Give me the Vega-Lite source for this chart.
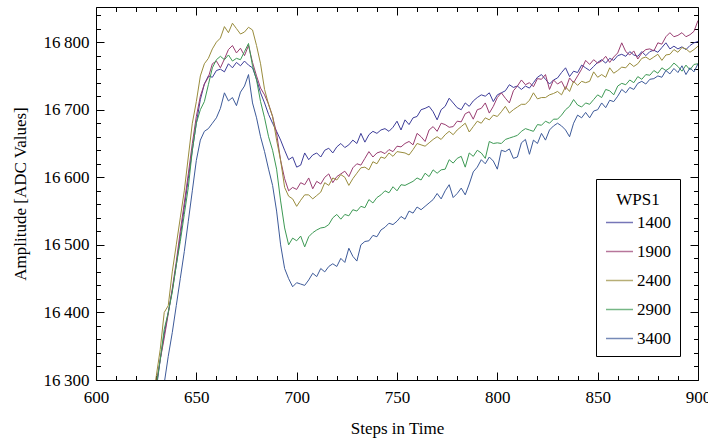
{
"$schema": "https://vega.github.io/schema/vega-lite/v6.json",
"width": 602, "height": 373,
"autosize": "none",
"padding": {"left": 96, "top": 7, "right": 10, "bottom": 60},
"background": "white",
"datasets": {
"d": [
{"s":"1400","t":626,"v":16200},{"s":"1400","t":628,"v":16240},{"s":"1400","t":630,"v":16285},{"s":"1400","t":632,"v":16330},{"s":"1400","t":634,"v":16368},{"s":"1400","t":636,"v":16400},{"s":"1400","t":638,"v":16432},{"s":"1400","t":640,"v":16470},{"s":"1400","t":642,"v":16512},{"s":"1400","t":644,"v":16555},{"s":"1400","t":646,"v":16598},{"s":"1400","t":648,"v":16640},{"s":"1400","t":650,"v":16680},{"s":"1400","t":652,"v":16715},{"s":"1400","t":654,"v":16738},{"s":"1400","t":656,"v":16750},{"s":"1400","t":658,"v":16748},{"s":"1400","t":660,"v":16758},{"s":"1400","t":662,"v":16760},{"s":"1400","t":664,"v":16756},{"s":"1400","t":666,"v":16768},{"s":"1400","t":668,"v":16762},{"s":"1400","t":670,"v":16770},{"s":"1400","t":672,"v":16765},{"s":"1400","t":674,"v":16772},{"s":"1400","t":676,"v":16766},{"s":"1400","t":678,"v":16762},{"s":"1400","t":680,"v":16745},{"s":"1400","t":682,"v":16725},{"s":"1400","t":684,"v":16710},{"s":"1400","t":686,"v":16693},{"s":"1400","t":688,"v":16680},{"s":"1400","t":690,"v":16668},{"s":"1400","t":692,"v":16655},{"s":"1400","t":694,"v":16640},{"s":"1400","t":696,"v":16626},{"s":"1400","t":698,"v":16630},{"s":"1400","t":700,"v":16615},{"s":"1400","t":702,"v":16618},{"s":"1400","t":704,"v":16636},{"s":"1400","t":706,"v":16626},{"s":"1400","t":708,"v":16633},{"s":"1400","t":710,"v":16636},{"s":"1400","t":712,"v":16630},{"s":"1400","t":714,"v":16640},{"s":"1400","t":716,"v":16643},{"s":"1400","t":718,"v":16636},{"s":"1400","t":720,"v":16645},{"s":"1400","t":722,"v":16650},{"s":"1400","t":724,"v":16644},{"s":"1400","t":726,"v":16648},{"s":"1400","t":728,"v":16655},{"s":"1400","t":730,"v":16650},{"s":"1400","t":732,"v":16665},{"s":"1400","t":734,"v":16652},{"s":"1400","t":736,"v":16663},{"s":"1400","t":738,"v":16668},{"s":"1400","t":740,"v":16665},{"s":"1400","t":742,"v":16670},{"s":"1400","t":744,"v":16672},{"s":"1400","t":746,"v":16668},{"s":"1400","t":748,"v":16674},{"s":"1400","t":750,"v":16683},{"s":"1400","t":752,"v":16670},{"s":"1400","t":754,"v":16685},{"s":"1400","t":756,"v":16678},{"s":"1400","t":758,"v":16688},{"s":"1400","t":760,"v":16690},{"s":"1400","t":762,"v":16700},{"s":"1400","t":764,"v":16702},{"s":"1400","t":766,"v":16705},{"s":"1400","t":768,"v":16697},{"s":"1400","t":770,"v":16685},{"s":"1400","t":772,"v":16700},{"s":"1400","t":774,"v":16705},{"s":"1400","t":776,"v":16717},{"s":"1400","t":778,"v":16710},{"s":"1400","t":780,"v":16703},{"s":"1400","t":782,"v":16700},{"s":"1400","t":784,"v":16710},{"s":"1400","t":786,"v":16705},{"s":"1400","t":788,"v":16713},{"s":"1400","t":790,"v":16718},{"s":"1400","t":792,"v":16722},{"s":"1400","t":794,"v":16720},{"s":"1400","t":796,"v":16725},{"s":"1400","t":798,"v":16712},{"s":"1400","t":800,"v":16722},{"s":"1400","t":802,"v":16725},{"s":"1400","t":804,"v":16728},{"s":"1400","t":806,"v":16737},{"s":"1400","t":808,"v":16733},{"s":"1400","t":810,"v":16735},{"s":"1400","t":812,"v":16730},{"s":"1400","t":814,"v":16735},{"s":"1400","t":816,"v":16732},{"s":"1400","t":818,"v":16740},{"s":"1400","t":820,"v":16748},{"s":"1400","t":822,"v":16752},{"s":"1400","t":824,"v":16745},{"s":"1400","t":826,"v":16738},{"s":"1400","t":828,"v":16744},{"s":"1400","t":830,"v":16747},{"s":"1400","t":832,"v":16755},{"s":"1400","t":834,"v":16762},{"s":"1400","t":836,"v":16749},{"s":"1400","t":838,"v":16757},{"s":"1400","t":840,"v":16755},{"s":"1400","t":842,"v":16766},{"s":"1400","t":844,"v":16762},{"s":"1400","t":846,"v":16758},{"s":"1400","t":848,"v":16764},{"s":"1400","t":850,"v":16770},{"s":"1400","t":852,"v":16774},{"s":"1400","t":854,"v":16769},{"s":"1400","t":856,"v":16776},{"s":"1400","t":858,"v":16773},{"s":"1400","t":860,"v":16780},{"s":"1400","t":862,"v":16782},{"s":"1400","t":864,"v":16779},{"s":"1400","t":866,"v":16786},{"s":"1400","t":868,"v":16781},{"s":"1400","t":870,"v":16779},{"s":"1400","t":872,"v":16786},{"s":"1400","t":874,"v":16780},{"s":"1400","t":876,"v":16786},{"s":"1400","t":878,"v":16788},{"s":"1400","t":880,"v":16785},{"s":"1400","t":882,"v":16792},{"s":"1400","t":884,"v":16799},{"s":"1400","t":886,"v":16790},{"s":"1400","t":888,"v":16794},{"s":"1400","t":890,"v":16790},{"s":"1400","t":892,"v":16793},{"s":"1400","t":894,"v":16789},{"s":"1400","t":896,"v":16795},{"s":"1400","t":898,"v":16799},{"s":"1400","t":900,"v":16801},
{"s":"1900","t":626,"v":16210},{"s":"1900","t":628,"v":16255},{"s":"1900","t":630,"v":16295},{"s":"1900","t":632,"v":16330},{"s":"1900","t":634,"v":16362},{"s":"1900","t":636,"v":16398},{"s":"1900","t":638,"v":16435},{"s":"1900","t":640,"v":16475},{"s":"1900","t":642,"v":16520},{"s":"1900","t":644,"v":16562},{"s":"1900","t":646,"v":16605},{"s":"1900","t":648,"v":16650},{"s":"1900","t":650,"v":16690},{"s":"1900","t":652,"v":16720},{"s":"1900","t":654,"v":16738},{"s":"1900","t":656,"v":16748},{"s":"1900","t":658,"v":16768},{"s":"1900","t":660,"v":16772},{"s":"1900","t":662,"v":16762},{"s":"1900","t":664,"v":16775},{"s":"1900","t":666,"v":16789},{"s":"1900","t":668,"v":16795},{"s":"1900","t":670,"v":16784},{"s":"1900","t":672,"v":16791},{"s":"1900","t":674,"v":16780},{"s":"1900","t":676,"v":16795},{"s":"1900","t":678,"v":16770},{"s":"1900","t":680,"v":16750},{"s":"1900","t":682,"v":16732},{"s":"1900","t":684,"v":16722},{"s":"1900","t":686,"v":16708},{"s":"1900","t":688,"v":16690},{"s":"1900","t":690,"v":16665},{"s":"1900","t":692,"v":16625},{"s":"1900","t":694,"v":16598},{"s":"1900","t":696,"v":16580},{"s":"1900","t":698,"v":16585},{"s":"1900","t":700,"v":16582},{"s":"1900","t":702,"v":16592},{"s":"1900","t":704,"v":16589},{"s":"1900","t":706,"v":16599},{"s":"1900","t":708,"v":16583},{"s":"1900","t":710,"v":16594},{"s":"1900","t":712,"v":16590},{"s":"1900","t":714,"v":16600},{"s":"1900","t":716,"v":16605},{"s":"1900","t":718,"v":16592},{"s":"1900","t":720,"v":16601},{"s":"1900","t":722,"v":16605},{"s":"1900","t":724,"v":16609},{"s":"1900","t":726,"v":16601},{"s":"1900","t":728,"v":16614},{"s":"1900","t":730,"v":16620},{"s":"1900","t":732,"v":16618},{"s":"1900","t":734,"v":16628},{"s":"1900","t":736,"v":16638},{"s":"1900","t":738,"v":16630},{"s":"1900","t":740,"v":16636},{"s":"1900","t":742,"v":16638},{"s":"1900","t":744,"v":16635},{"s":"1900","t":746,"v":16641},{"s":"1900","t":748,"v":16638},{"s":"1900","t":750,"v":16646},{"s":"1900","t":752,"v":16645},{"s":"1900","t":754,"v":16650},{"s":"1900","t":756,"v":16653},{"s":"1900","t":758,"v":16648},{"s":"1900","t":760,"v":16665},{"s":"1900","t":762,"v":16660},{"s":"1900","t":764,"v":16653},{"s":"1900","t":766,"v":16670},{"s":"1900","t":768,"v":16675},{"s":"1900","t":770,"v":16668},{"s":"1900","t":772,"v":16680},{"s":"1900","t":774,"v":16678},{"s":"1900","t":776,"v":16674},{"s":"1900","t":778,"v":16675},{"s":"1900","t":780,"v":16683},{"s":"1900","t":782,"v":16682},{"s":"1900","t":784,"v":16694},{"s":"1900","t":786,"v":16697},{"s":"1900","t":788,"v":16686},{"s":"1900","t":790,"v":16700},{"s":"1900","t":792,"v":16702},{"s":"1900","t":794,"v":16710},{"s":"1900","t":796,"v":16695},{"s":"1900","t":798,"v":16705},{"s":"1900","t":800,"v":16718},{"s":"1900","t":802,"v":16725},{"s":"1900","t":804,"v":16717},{"s":"1900","t":806,"v":16710},{"s":"1900","t":808,"v":16728},{"s":"1900","t":810,"v":16735},{"s":"1900","t":812,"v":16744},{"s":"1900","t":814,"v":16737},{"s":"1900","t":816,"v":16740},{"s":"1900","t":818,"v":16734},{"s":"1900","t":820,"v":16746},{"s":"1900","t":822,"v":16745},{"s":"1900","t":824,"v":16752},{"s":"1900","t":826,"v":16730},{"s":"1900","t":828,"v":16744},{"s":"1900","t":830,"v":16738},{"s":"1900","t":832,"v":16742},{"s":"1900","t":834,"v":16730},{"s":"1900","t":836,"v":16747},{"s":"1900","t":838,"v":16740},{"s":"1900","t":840,"v":16750},{"s":"1900","t":842,"v":16760},{"s":"1900","t":844,"v":16773},{"s":"1900","t":846,"v":16767},{"s":"1900","t":848,"v":16774},{"s":"1900","t":850,"v":16769},{"s":"1900","t":852,"v":16772},{"s":"1900","t":854,"v":16779},{"s":"1900","t":856,"v":16770},{"s":"1900","t":858,"v":16778},{"s":"1900","t":860,"v":16784},{"s":"1900","t":862,"v":16799},{"s":"1900","t":864,"v":16786},{"s":"1900","t":866,"v":16781},{"s":"1900","t":868,"v":16787},{"s":"1900","t":870,"v":16775},{"s":"1900","t":872,"v":16784},{"s":"1900","t":874,"v":16789},{"s":"1900","t":876,"v":16790},{"s":"1900","t":878,"v":16787},{"s":"1900","t":880,"v":16799},{"s":"1900","t":882,"v":16797},{"s":"1900","t":884,"v":16808},{"s":"1900","t":886,"v":16814},{"s":"1900","t":888,"v":16808},{"s":"1900","t":890,"v":16810},{"s":"1900","t":892,"v":16814},{"s":"1900","t":894,"v":16808},{"s":"1900","t":896,"v":16811},{"s":"1900","t":898,"v":16816},{"s":"1900","t":900,"v":16832},
{"s":"2400","t":626,"v":16225},{"s":"2400","t":628,"v":16265},{"s":"2400","t":630,"v":16305},{"s":"2400","t":632,"v":16345},{"s":"2400","t":634,"v":16400},{"s":"2400","t":636,"v":16410},{"s":"2400","t":638,"v":16460},{"s":"2400","t":640,"v":16500},{"s":"2400","t":642,"v":16540},{"s":"2400","t":644,"v":16580},{"s":"2400","t":646,"v":16630},{"s":"2400","t":648,"v":16680},{"s":"2400","t":650,"v":16712},{"s":"2400","t":652,"v":16750},{"s":"2400","t":654,"v":16768},{"s":"2400","t":656,"v":16776},{"s":"2400","t":658,"v":16790},{"s":"2400","t":660,"v":16800},{"s":"2400","t":662,"v":16806},{"s":"2400","t":664,"v":16823},{"s":"2400","t":666,"v":16814},{"s":"2400","t":668,"v":16828},{"s":"2400","t":670,"v":16820},{"s":"2400","t":672,"v":16812},{"s":"2400","t":674,"v":16815},{"s":"2400","t":676,"v":16822},{"s":"2400","t":678,"v":16818},{"s":"2400","t":680,"v":16795},{"s":"2400","t":682,"v":16768},{"s":"2400","t":684,"v":16730},{"s":"2400","t":686,"v":16708},{"s":"2400","t":688,"v":16690},{"s":"2400","t":690,"v":16655},{"s":"2400","t":692,"v":16625},{"s":"2400","t":694,"v":16585},{"s":"2400","t":696,"v":16572},{"s":"2400","t":698,"v":16568},{"s":"2400","t":700,"v":16557},{"s":"2400","t":702,"v":16566},{"s":"2400","t":704,"v":16574},{"s":"2400","t":706,"v":16574},{"s":"2400","t":708,"v":16568},{"s":"2400","t":710,"v":16573},{"s":"2400","t":712,"v":16578},{"s":"2400","t":714,"v":16592},{"s":"2400","t":716,"v":16588},{"s":"2400","t":718,"v":16599},{"s":"2400","t":720,"v":16596},{"s":"2400","t":722,"v":16604},{"s":"2400","t":724,"v":16600},{"s":"2400","t":726,"v":16588},{"s":"2400","t":728,"v":16598},{"s":"2400","t":730,"v":16606},{"s":"2400","t":732,"v":16614},{"s":"2400","t":734,"v":16615},{"s":"2400","t":736,"v":16611},{"s":"2400","t":738,"v":16623},{"s":"2400","t":740,"v":16620},{"s":"2400","t":742,"v":16630},{"s":"2400","t":744,"v":16628},{"s":"2400","t":746,"v":16636},{"s":"2400","t":748,"v":16631},{"s":"2400","t":750,"v":16638},{"s":"2400","t":752,"v":16637},{"s":"2400","t":754,"v":16636},{"s":"2400","t":756,"v":16633},{"s":"2400","t":758,"v":16641},{"s":"2400","t":760,"v":16650},{"s":"2400","t":762,"v":16648},{"s":"2400","t":764,"v":16646},{"s":"2400","t":766,"v":16651},{"s":"2400","t":768,"v":16656},{"s":"2400","t":770,"v":16660},{"s":"2400","t":772,"v":16656},{"s":"2400","t":774,"v":16663},{"s":"2400","t":776,"v":16668},{"s":"2400","t":778,"v":16663},{"s":"2400","t":780,"v":16670},{"s":"2400","t":782,"v":16675},{"s":"2400","t":784,"v":16680},{"s":"2400","t":786,"v":16667},{"s":"2400","t":788,"v":16675},{"s":"2400","t":790,"v":16683},{"s":"2400","t":792,"v":16680},{"s":"2400","t":794,"v":16688},{"s":"2400","t":796,"v":16685},{"s":"2400","t":798,"v":16692},{"s":"2400","t":800,"v":16690},{"s":"2400","t":802,"v":16697},{"s":"2400","t":804,"v":16705},{"s":"2400","t":806,"v":16695},{"s":"2400","t":808,"v":16700},{"s":"2400","t":810,"v":16704},{"s":"2400","t":812,"v":16708},{"s":"2400","t":814,"v":16708},{"s":"2400","t":816,"v":16714},{"s":"2400","t":818,"v":16725},{"s":"2400","t":820,"v":16716},{"s":"2400","t":822,"v":16718},{"s":"2400","t":824,"v":16718},{"s":"2400","t":826,"v":16722},{"s":"2400","t":828,"v":16724},{"s":"2400","t":830,"v":16727},{"s":"2400","t":832,"v":16722},{"s":"2400","t":834,"v":16734},{"s":"2400","t":836,"v":16727},{"s":"2400","t":838,"v":16742},{"s":"2400","t":840,"v":16736},{"s":"2400","t":842,"v":16742},{"s":"2400","t":844,"v":16740},{"s":"2400","t":846,"v":16742},{"s":"2400","t":848,"v":16756},{"s":"2400","t":850,"v":16748},{"s":"2400","t":852,"v":16752},{"s":"2400","t":854,"v":16748},{"s":"2400","t":856,"v":16762},{"s":"2400","t":858,"v":16754},{"s":"2400","t":860,"v":16758},{"s":"2400","t":862,"v":16763},{"s":"2400","t":864,"v":16762},{"s":"2400","t":866,"v":16769},{"s":"2400","t":868,"v":16764},{"s":"2400","t":870,"v":16768},{"s":"2400","t":872,"v":16776},{"s":"2400","t":874,"v":16778},{"s":"2400","t":876,"v":16774},{"s":"2400","t":878,"v":16778},{"s":"2400","t":880,"v":16782},{"s":"2400","t":882,"v":16773},{"s":"2400","t":884,"v":16781},{"s":"2400","t":886,"v":16782},{"s":"2400","t":888,"v":16789},{"s":"2400","t":890,"v":16785},{"s":"2400","t":892,"v":16792},{"s":"2400","t":894,"v":16790},{"s":"2400","t":896,"v":16785},{"s":"2400","t":898,"v":16789},{"s":"2400","t":900,"v":16794},
{"s":"2900","t":626,"v":16215},{"s":"2900","t":628,"v":16258},{"s":"2900","t":630,"v":16290},{"s":"2900","t":632,"v":16330},{"s":"2900","t":634,"v":16375},{"s":"2900","t":636,"v":16400},{"s":"2900","t":638,"v":16430},{"s":"2900","t":640,"v":16470},{"s":"2900","t":642,"v":16505},{"s":"2900","t":644,"v":16545},{"s":"2900","t":646,"v":16585},{"s":"2900","t":648,"v":16640},{"s":"2900","t":650,"v":16680},{"s":"2900","t":652,"v":16700},{"s":"2900","t":654,"v":16712},{"s":"2900","t":656,"v":16737},{"s":"2900","t":658,"v":16762},{"s":"2900","t":660,"v":16774},{"s":"2900","t":662,"v":16779},{"s":"2900","t":664,"v":16774},{"s":"2900","t":666,"v":16781},{"s":"2900","t":668,"v":16772},{"s":"2900","t":670,"v":16776},{"s":"2900","t":672,"v":16774},{"s":"2900","t":674,"v":16786},{"s":"2900","t":676,"v":16798},{"s":"2900","t":678,"v":16765},{"s":"2900","t":680,"v":16744},{"s":"2900","t":682,"v":16712},{"s":"2900","t":684,"v":16688},{"s":"2900","t":686,"v":16660},{"s":"2900","t":688,"v":16640},{"s":"2900","t":690,"v":16612},{"s":"2900","t":692,"v":16565},{"s":"2900","t":694,"v":16525},{"s":"2900","t":696,"v":16500},{"s":"2900","t":698,"v":16510},{"s":"2900","t":700,"v":16506},{"s":"2900","t":702,"v":16513},{"s":"2900","t":704,"v":16497},{"s":"2900","t":706,"v":16512},{"s":"2900","t":708,"v":16518},{"s":"2900","t":710,"v":16522},{"s":"2900","t":712,"v":16525},{"s":"2900","t":714,"v":16526},{"s":"2900","t":716,"v":16530},{"s":"2900","t":718,"v":16540},{"s":"2900","t":720,"v":16545},{"s":"2900","t":722,"v":16538},{"s":"2900","t":724,"v":16545},{"s":"2900","t":726,"v":16543},{"s":"2900","t":728,"v":16552},{"s":"2900","t":730,"v":16550},{"s":"2900","t":732,"v":16557},{"s":"2900","t":734,"v":16555},{"s":"2900","t":736,"v":16567},{"s":"2900","t":738,"v":16562},{"s":"2900","t":740,"v":16570},{"s":"2900","t":742,"v":16574},{"s":"2900","t":744,"v":16580},{"s":"2900","t":746,"v":16577},{"s":"2900","t":748,"v":16586},{"s":"2900","t":750,"v":16580},{"s":"2900","t":752,"v":16589},{"s":"2900","t":754,"v":16588},{"s":"2900","t":756,"v":16591},{"s":"2900","t":758,"v":16594},{"s":"2900","t":760,"v":16599},{"s":"2900","t":762,"v":16596},{"s":"2900","t":764,"v":16606},{"s":"2900","t":766,"v":16601},{"s":"2900","t":768,"v":16611},{"s":"2900","t":770,"v":16606},{"s":"2900","t":772,"v":16611},{"s":"2900","t":774,"v":16612},{"s":"2900","t":776,"v":16626},{"s":"2900","t":778,"v":16621},{"s":"2900","t":780,"v":16628},{"s":"2900","t":782,"v":16631},{"s":"2900","t":784,"v":16615},{"s":"2900","t":786,"v":16636},{"s":"2900","t":788,"v":16631},{"s":"2900","t":790,"v":16640},{"s":"2900","t":792,"v":16636},{"s":"2900","t":794,"v":16628},{"s":"2900","t":796,"v":16653},{"s":"2900","t":798,"v":16650},{"s":"2900","t":800,"v":16651},{"s":"2900","t":802,"v":16650},{"s":"2900","t":804,"v":16656},{"s":"2900","t":806,"v":16658},{"s":"2900","t":808,"v":16660},{"s":"2900","t":810,"v":16662},{"s":"2900","t":812,"v":16668},{"s":"2900","t":814,"v":16672},{"s":"2900","t":816,"v":16670},{"s":"2900","t":818,"v":16668},{"s":"2900","t":820,"v":16678},{"s":"2900","t":822,"v":16677},{"s":"2900","t":824,"v":16683},{"s":"2900","t":826,"v":16680},{"s":"2900","t":828,"v":16686},{"s":"2900","t":830,"v":16686},{"s":"2900","t":832,"v":16692},{"s":"2900","t":834,"v":16700},{"s":"2900","t":836,"v":16705},{"s":"2900","t":838,"v":16715},{"s":"2900","t":840,"v":16707},{"s":"2900","t":842,"v":16704},{"s":"2900","t":844,"v":16710},{"s":"2900","t":846,"v":16708},{"s":"2900","t":848,"v":16715},{"s":"2900","t":850,"v":16722},{"s":"2900","t":852,"v":16718},{"s":"2900","t":854,"v":16730},{"s":"2900","t":856,"v":16728},{"s":"2900","t":858,"v":16722},{"s":"2900","t":860,"v":16735},{"s":"2900","t":862,"v":16739},{"s":"2900","t":864,"v":16737},{"s":"2900","t":866,"v":16744},{"s":"2900","t":868,"v":16740},{"s":"2900","t":870,"v":16749},{"s":"2900","t":872,"v":16745},{"s":"2900","t":874,"v":16752},{"s":"2900","t":876,"v":16751},{"s":"2900","t":878,"v":16758},{"s":"2900","t":880,"v":16754},{"s":"2900","t":882,"v":16762},{"s":"2900","t":884,"v":16758},{"s":"2900","t":886,"v":16762},{"s":"2900","t":888,"v":16769},{"s":"2900","t":890,"v":16764},{"s":"2900","t":892,"v":16757},{"s":"2900","t":894,"v":16766},{"s":"2900","t":896,"v":16759},{"s":"2900","t":898,"v":16767},{"s":"2900","t":900,"v":16768},
{"s":"3400","t":626,"v":16160},{"s":"3400","t":628,"v":16190},{"s":"3400","t":630,"v":16225},{"s":"3400","t":632,"v":16260},{"s":"3400","t":634,"v":16295},{"s":"3400","t":636,"v":16335},{"s":"3400","t":638,"v":16370},{"s":"3400","t":640,"v":16410},{"s":"3400","t":642,"v":16450},{"s":"3400","t":644,"v":16490},{"s":"3400","t":646,"v":16535},{"s":"3400","t":648,"v":16580},{"s":"3400","t":650,"v":16625},{"s":"3400","t":652,"v":16655},{"s":"3400","t":654,"v":16668},{"s":"3400","t":656,"v":16672},{"s":"3400","t":658,"v":16680},{"s":"3400","t":660,"v":16688},{"s":"3400","t":662,"v":16702},{"s":"3400","t":664,"v":16725},{"s":"3400","t":666,"v":16713},{"s":"3400","t":668,"v":16718},{"s":"3400","t":670,"v":16706},{"s":"3400","t":672,"v":16726},{"s":"3400","t":674,"v":16735},{"s":"3400","t":676,"v":16752},{"s":"3400","t":678,"v":16710},{"s":"3400","t":680,"v":16688},{"s":"3400","t":682,"v":16660},{"s":"3400","t":684,"v":16638},{"s":"3400","t":686,"v":16612},{"s":"3400","t":688,"v":16588},{"s":"3400","t":690,"v":16550},{"s":"3400","t":692,"v":16500},{"s":"3400","t":694,"v":16465},{"s":"3400","t":696,"v":16450},{"s":"3400","t":698,"v":16438},{"s":"3400","t":700,"v":16444},{"s":"3400","t":702,"v":16442},{"s":"3400","t":704,"v":16440},{"s":"3400","t":706,"v":16448},{"s":"3400","t":708,"v":16458},{"s":"3400","t":710,"v":16453},{"s":"3400","t":712,"v":16465},{"s":"3400","t":714,"v":16460},{"s":"3400","t":716,"v":16468},{"s":"3400","t":718,"v":16472},{"s":"3400","t":720,"v":16468},{"s":"3400","t":722,"v":16480},{"s":"3400","t":724,"v":16474},{"s":"3400","t":726,"v":16495},{"s":"3400","t":728,"v":16483},{"s":"3400","t":730,"v":16476},{"s":"3400","t":732,"v":16500},{"s":"3400","t":734,"v":16505},{"s":"3400","t":736,"v":16506},{"s":"3400","t":738,"v":16514},{"s":"3400","t":740,"v":16512},{"s":"3400","t":742,"v":16522},{"s":"3400","t":744,"v":16526},{"s":"3400","t":746,"v":16532},{"s":"3400","t":748,"v":16530},{"s":"3400","t":750,"v":16535},{"s":"3400","t":752,"v":16542},{"s":"3400","t":754,"v":16538},{"s":"3400","t":756,"v":16550},{"s":"3400","t":758,"v":16547},{"s":"3400","t":760,"v":16556},{"s":"3400","t":762,"v":16552},{"s":"3400","t":764,"v":16557},{"s":"3400","t":766,"v":16562},{"s":"3400","t":768,"v":16567},{"s":"3400","t":770,"v":16576},{"s":"3400","t":772,"v":16568},{"s":"3400","t":774,"v":16580},{"s":"3400","t":776,"v":16589},{"s":"3400","t":778,"v":16570},{"s":"3400","t":780,"v":16576},{"s":"3400","t":782,"v":16584},{"s":"3400","t":784,"v":16574},{"s":"3400","t":786,"v":16590},{"s":"3400","t":788,"v":16608},{"s":"3400","t":790,"v":16615},{"s":"3400","t":792,"v":16626},{"s":"3400","t":794,"v":16620},{"s":"3400","t":796,"v":16630},{"s":"3400","t":798,"v":16624},{"s":"3400","t":800,"v":16612},{"s":"3400","t":802,"v":16640},{"s":"3400","t":804,"v":16638},{"s":"3400","t":806,"v":16642},{"s":"3400","t":808,"v":16628},{"s":"3400","t":810,"v":16630},{"s":"3400","t":812,"v":16651},{"s":"3400","t":814,"v":16656},{"s":"3400","t":816,"v":16634},{"s":"3400","t":818,"v":16655},{"s":"3400","t":820,"v":16650},{"s":"3400","t":822,"v":16665},{"s":"3400","t":824,"v":16655},{"s":"3400","t":826,"v":16670},{"s":"3400","t":828,"v":16676},{"s":"3400","t":830,"v":16680},{"s":"3400","t":832,"v":16676},{"s":"3400","t":834,"v":16670},{"s":"3400","t":836,"v":16660},{"s":"3400","t":838,"v":16680},{"s":"3400","t":840,"v":16692},{"s":"3400","t":842,"v":16688},{"s":"3400","t":844,"v":16696},{"s":"3400","t":846,"v":16688},{"s":"3400","t":848,"v":16698},{"s":"3400","t":850,"v":16700},{"s":"3400","t":852,"v":16710},{"s":"3400","t":854,"v":16703},{"s":"3400","t":856,"v":16714},{"s":"3400","t":858,"v":16712},{"s":"3400","t":860,"v":16720},{"s":"3400","t":862,"v":16730},{"s":"3400","t":864,"v":16725},{"s":"3400","t":866,"v":16733},{"s":"3400","t":868,"v":16730},{"s":"3400","t":870,"v":16739},{"s":"3400","t":872,"v":16742},{"s":"3400","t":874,"v":16738},{"s":"3400","t":876,"v":16745},{"s":"3400","t":878,"v":16746},{"s":"3400","t":880,"v":16750},{"s":"3400","t":882,"v":16748},{"s":"3400","t":884,"v":16758},{"s":"3400","t":886,"v":16753},{"s":"3400","t":888,"v":16761},{"s":"3400","t":890,"v":16755},{"s":"3400","t":892,"v":16765},{"s":"3400","t":894,"v":16752},{"s":"3400","t":896,"v":16762},{"s":"3400","t":898,"v":16756},{"s":"3400","t":900,"v":16768}
],
"anchor": [{"t": 700, "v": 16500}]
},
"layer": [
{
"data": {"name": "d"},
"mark": {"type": "line", "clip": true, "strokeWidth": 1},
"encoding": {
"x": {"field": "t", "type": "quantitative", "scale": {"domain": [600, 900], "nice": false, "zero": false},
"axis": {"orient": "bottom", "values": [600, 650, 700, 750, 800, 850, 900], "tickSize": -8, "labelPadding": 17, "labelFlush": false, "labelOverlap": false, "title": "Steps in Time", "titlePadding": 15}},
"y": {"field": "v", "type": "quantitative", "scale": {"domain": [16300, 16852], "nice": false, "zero": false},
"axis": {"orient": "left", "values": [16300, 16400, 16500, 16600, 16700, 16800], "tickSize": -8, "labelPadding": 15, "labelFlush": false, "labelOverlap": false, "labelExpr": "replace(format(datum.value, ','), ',', '\u2009')", "title": "Amplitude [ADC Values]", "titlePadding": 14}},
"color": {"field": "s", "type": "nominal", "title": "WPS1",
"scale": {"domain": ["1400", "1900", "2400", "2900", "3400"], "range": ["#3D3D99", "#993D71", "#998C3D", "#3D9954", "#3D5A99"]},
"legend": {"orient": "none", "legendX": 500, "legendY": 172, "symbolType": "stroke", "symbolSize": 729, "symbolStrokeWidth": 1.5, "symbolOpacity": 0.7, "labelOffset": 3, "rowPadding": 6, "padding": 9, "strokeColor": "black", "fillColor": "white", "titleAnchor": "middle", "titleBaseline": "line-top", "titleLineHeight": 25, "titlePadding": 3}}
}
},
{
"data": {"name": "anchor"},
"mark": {"type": "point", "opacity": 0},
"encoding": {
"x": {"field": "t", "type": "quantitative", "axis": {"orient": "bottom", "values": [610,620,630,640,660,670,680,690,710,720,730,740,760,770,780,790,810,820,830,840,860,870,880,890], "tickSize": -4.5, "labels": false, "title": null}},
"y": {"field": "v", "type": "quantitative", "axis": {"orient": "left", "values": [16320,16340,16360,16380,16420,16440,16460,16480,16520,16540,16560,16580,16620,16640,16660,16680,16720,16740,16760,16780,16820,16840], "tickSize": -4.5, "labels": false, "title": null}}
}
},
{
"data": {"name": "anchor"},
"mark": {"type": "point", "opacity": 0},
"encoding": {
"x": {"field": "t", "type": "quantitative", "axis": {"orient": "top", "values": [600, 650, 700, 750, 800, 850, 900], "tickSize": -8, "labels": false, "title": null}},
"y": {"field": "v", "type": "quantitative", "axis": {"orient": "right", "values": [16300, 16400, 16500, 16600, 16700, 16800], "tickSize": -8, "labels": false, "title": null}}
}
},
{
"data": {"name": "anchor"},
"mark": {"type": "point", "opacity": 0},
"encoding": {
"x": {"field": "t", "type": "quantitative", "axis": {"orient": "top", "values": [610,620,630,640,660,670,680,690,710,720,730,740,760,770,780,790,810,820,830,840,860,870,880,890], "tickSize": -4.5, "labels": false, "title": null}},
"y": {"field": "v", "type": "quantitative", "axis": {"orient": "right", "values": [16320,16340,16360,16380,16420,16440,16460,16480,16520,16540,16560,16580,16620,16640,16660,16680,16720,16740,16760,16780,16820,16840], "tickSize": -4.5, "labels": false, "title": null}}
}
}
],
"resolve": {"axis": {"x": "independent", "y": "independent"}},
"config": {
"font": "Liberation Serif",
"view": {"stroke": "black", "strokeWidth": 1},
"axis": {"domain": false, "grid": false, "tickColor": "black", "tickWidth": 1, "labelFont": "Liberation Serif", "titleFont": "Liberation Serif", "labelFontSize": 17, "titleFontSize": 17, "titleFontWeight": "normal", "labelColor": "black", "titleColor": "black"},
"legend": {"labelFont": "Liberation Serif", "titleFont": "Liberation Serif", "labelFontSize": 17, "titleFontSize": 17, "titleFontWeight": "normal", "labelColor": "black", "titleColor": "black"}
}
}
